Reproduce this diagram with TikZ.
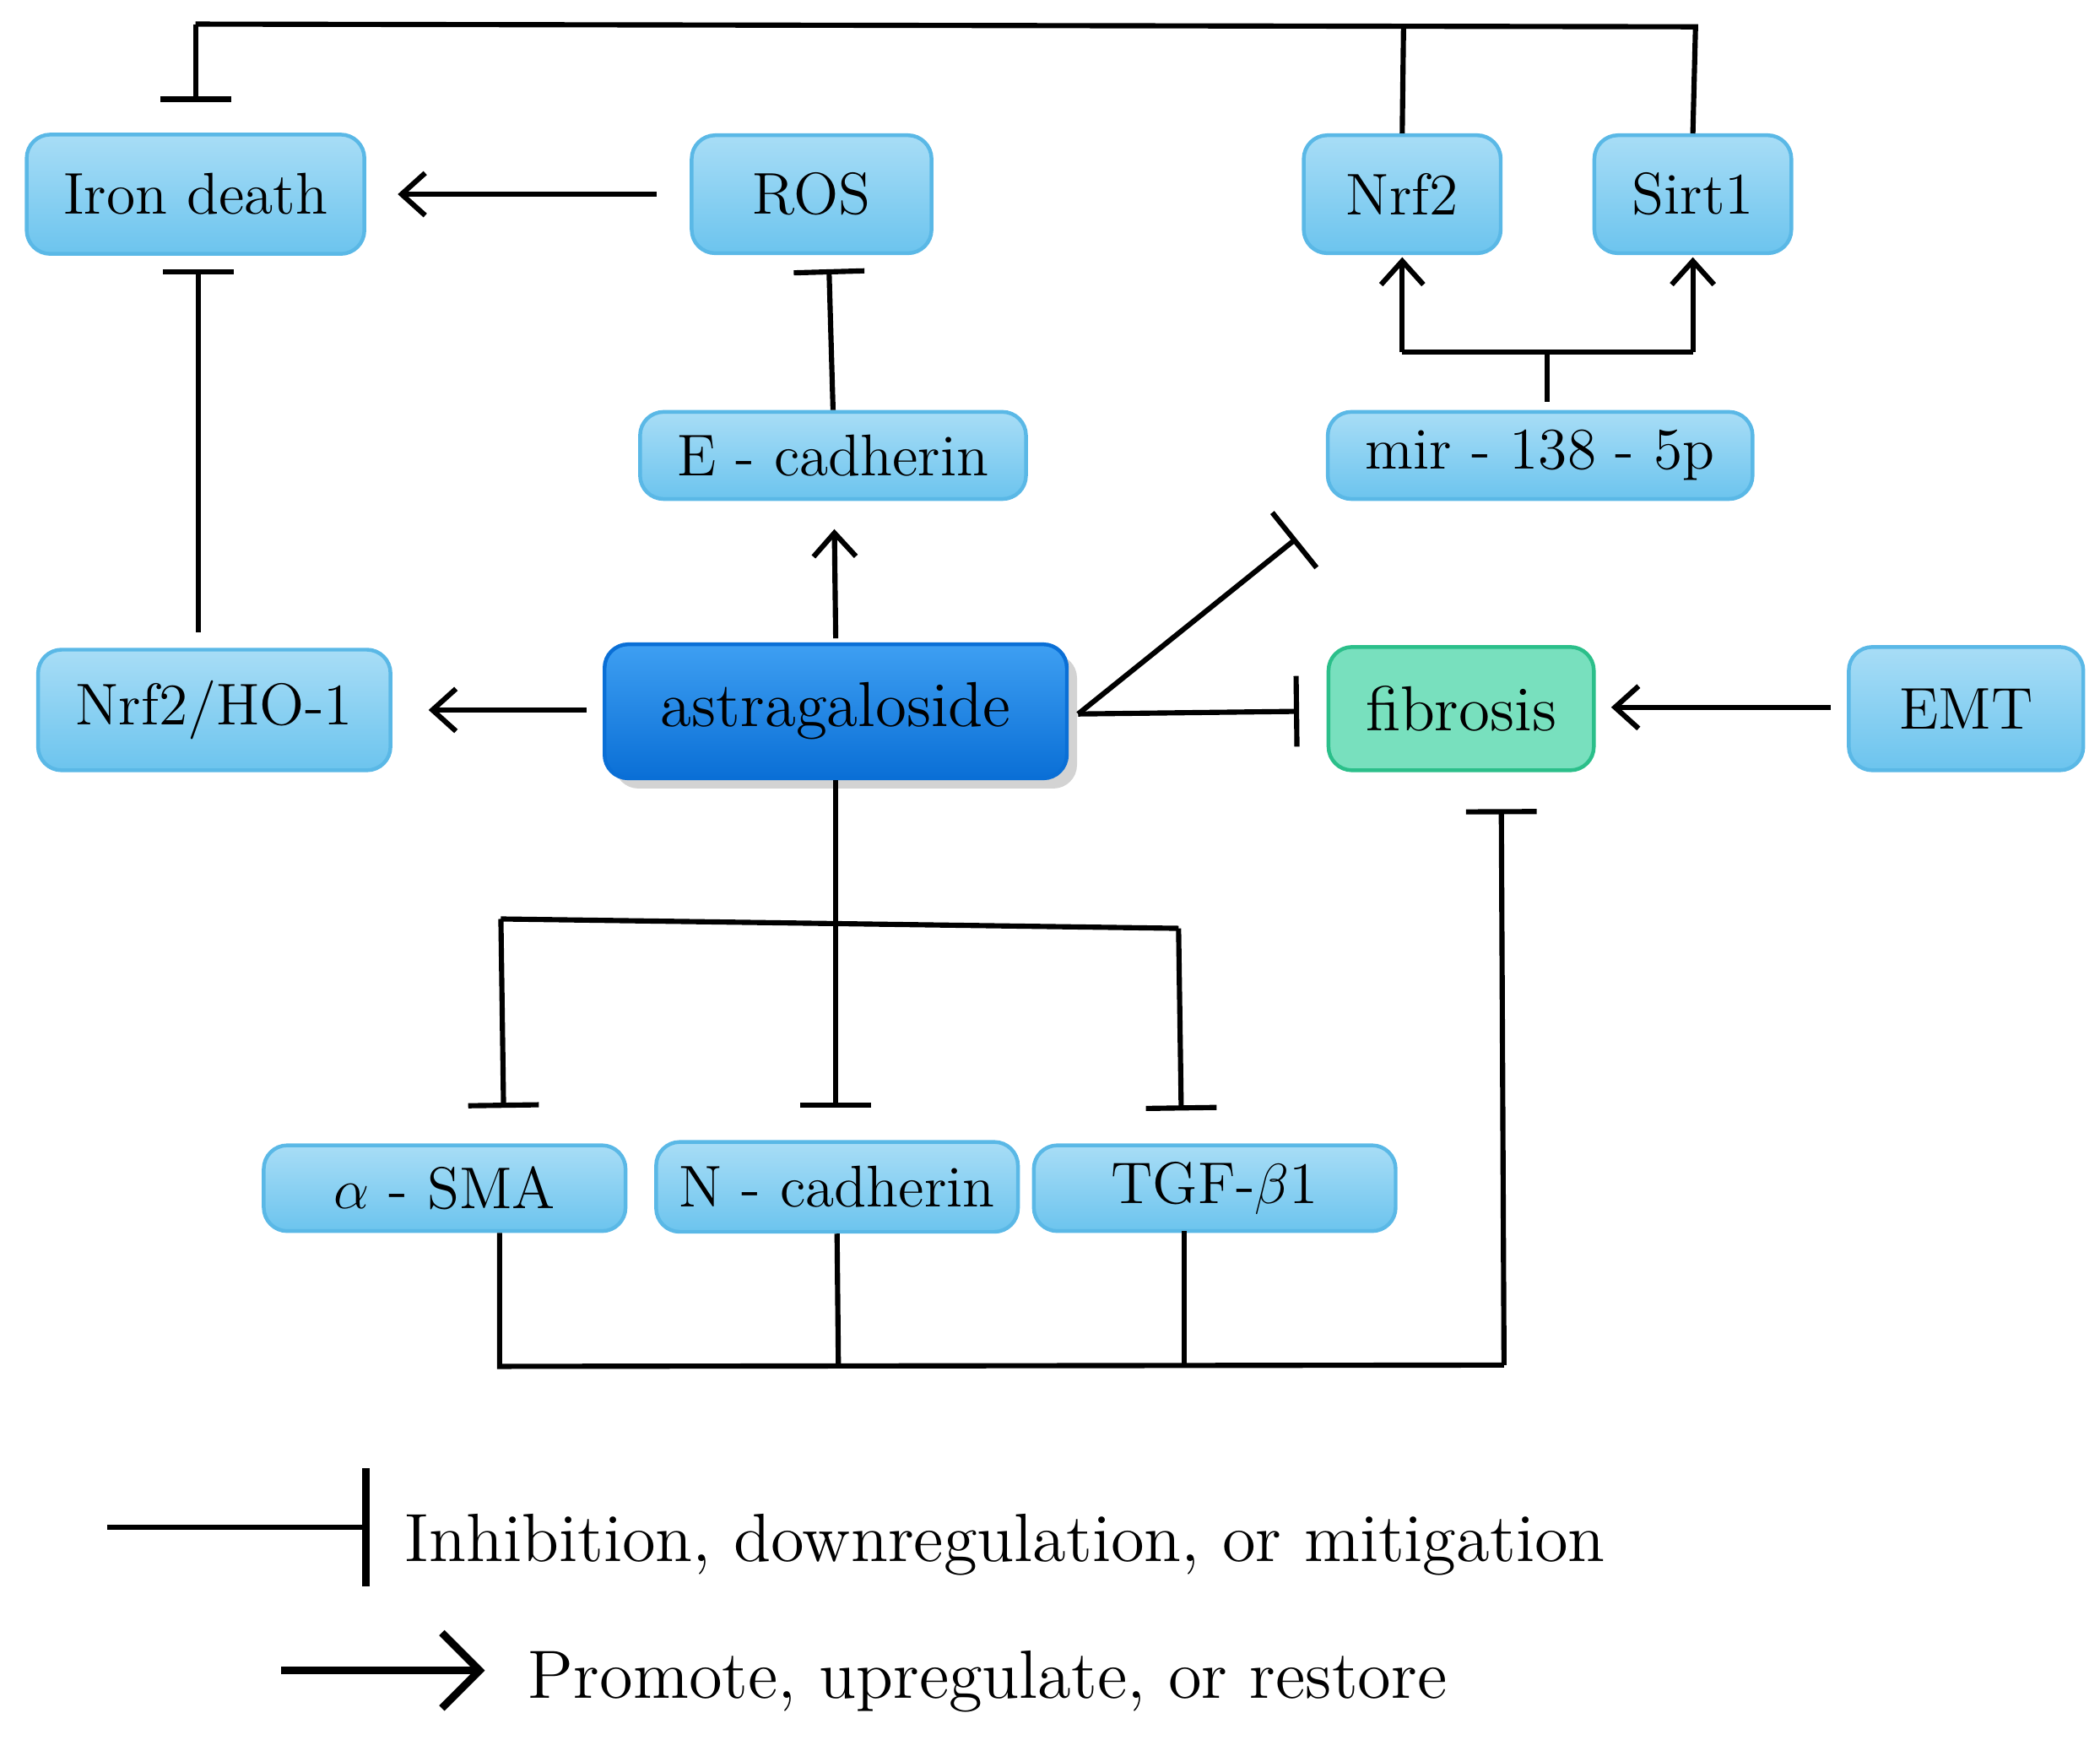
\documentclass[tikz,border=0pt]{standalone}
\usetikzlibrary{arrows.meta,shadows}
\definecolor{bxtop}{HTML}{A8DDF6}
\definecolor{bxbot}{HTML}{6CC4EE}
\definecolor{bxdraw}{HTML}{5AB8E6}
\definecolor{astop}{HTML}{3E9FF2}
\definecolor{asbot}{HTML}{0A6FD6}
\definecolor{fib}{HTML}{78E0BE}
\definecolor{fibd}{HTML}{2BBF8A}
\begin{document}
\begin{tikzpicture}[x=0.01cm,y=-0.01cm,
  box/.style={draw=bxdraw,line width=0.8pt,rounded corners=5pt,top color=bxtop,bottom color=bxbot,inner sep=0pt,font=\fontsize{12.5}{14}\selectfont},
  ln/.style={line width=1.1pt},
  inh/.style={ln,-{Bar[width=15pt,line width=1.1pt]}},
  act/.style={ln,-{Straight Barb[length=5pt,width=9pt,line width=1.1pt]}}]
\useasboundingbox (0,0) rectangle (1568,1307);
\node[box,minimum width=2.52cm,minimum height=0.89cm] (iron) at (146,145) {Iron death};
\node[box,minimum width=1.79cm,minimum height=0.88cm] (ros) at (606,145) {ROS};
\node[box,minimum width=1.47cm,minimum height=0.88cm] (nrf) at (1047,145) {Nrf2};
\node[box,minimum width=1.47cm,minimum height=0.88cm] (sirt) at (1264,145) {Sirt1};
\node[box,minimum width=2.88cm,minimum height=0.65cm] (ecad) at (622,340) {E - cadherin};
\node[box,minimum width=3.17cm,minimum height=0.65cm] (mir) at (1150,340) {mir - 138 - 5p};
\node[box,minimum width=2.63cm,minimum height=0.90cm] (ho) at (160,530) {Nrf2/HO-1};
\node[draw=asbot,line width=0.8pt,rounded corners=5pt,top color=astop,bottom color=asbot,drop shadow={opacity=0.35},minimum width=3.45cm,minimum height=1.0cm,font=\fontsize{13.5}{15}\selectfont] (ast) at (624,531) {astragaloside};
\node[draw=fibd,line width=0.8pt,rounded corners=5pt,fill=fib,minimum width=1.98cm,minimum height=0.92cm,font=\fontsize{13.5}{15}\selectfont] (fib) at (1091,529) {fibrosis};
\node[box,minimum width=1.75cm,minimum height=0.92cm] (emt) at (1468,529) {EMT};
\node[box,minimum width=2.70cm,minimum height=0.64cm] (sma) at (332,887) {$\alpha$ - SMA};
\node[box,minimum width=2.70cm,minimum height=0.67cm] (ncad) at (625,886) {N - cadherin};
\node[box,minimum width=2.70cm,minimum height=0.64cm] (tgf) at (907,887) {TGF-$\beta$1};
% top feedback
\coordinate (t1) at (146,18); \coordinate (t2) at (1048,19); \coordinate (t3) at (1266,20);
\draw[ln] (nrf.north) -- (t2);
\draw[ln] (sirt.north) -- (t3) -- (t1);
\draw[inh] (t1) -- (146,76);
\draw[act] (490,145) -- (297,145);
\draw[inh] (148,472) -- (148,201);
\draw[inh] (ecad.north) -- (619,201);
% mir
\coordinate (m1) at (1155,263);
\draw[ln] (1155,300) -- (m1);
\draw[act] (1047,263) -- (1047,192);
\draw[act] (1264,263) -- (1264,192);
\draw[ln] (1047,263) -- (1264,263);
% astragaloside
\draw[act] (ast.north) ++(0,-3) -- (623,395);
\draw[act] (438,530) -- (320,530);
\draw[inh] (805,533) -- (970,531);
\draw[inh] (805,533) -- (968,402);
\draw[act] (1367,528) -- (1203,528);
\draw[inh] (ast.south) -- (624,827);
\draw[ln] (374,686) -- (880,693);
\draw[inh] (374,686) -- (376,827);
\draw[inh] (880,693) -- (882,829);
% bottom
\coordinate (b4) at (1123,1019);
\draw[ln] (sma.south) ++(41,0) -- (373,1020) -- (b4);
\draw[ln] (ncad.south) -- (626,1020);
\draw[ln] (884,919) -- (884,1020);
\draw[inh] (b4) -- (1121,604);
% legend
\draw[ln,-{Bar[width=25pt,line width=1.6pt]}] (80,1140) -- (276,1140);
\node[anchor=west,font=\fontsize{14.5}{16}\selectfont] (l1) at (290,1153) {Inhibition, downregulation, or mitigation};
\draw[line width=1.6pt,-{Straight Barb[length=8pt,width=16pt,line width=1.6pt]}] (210,1247) -- (362,1247);
\node[anchor=west,font=\fontsize{14.5}{16}\selectfont] (l2) at (382,1255) {Promote, upregulate, or restore};
\end{tikzpicture}
\end{document}
